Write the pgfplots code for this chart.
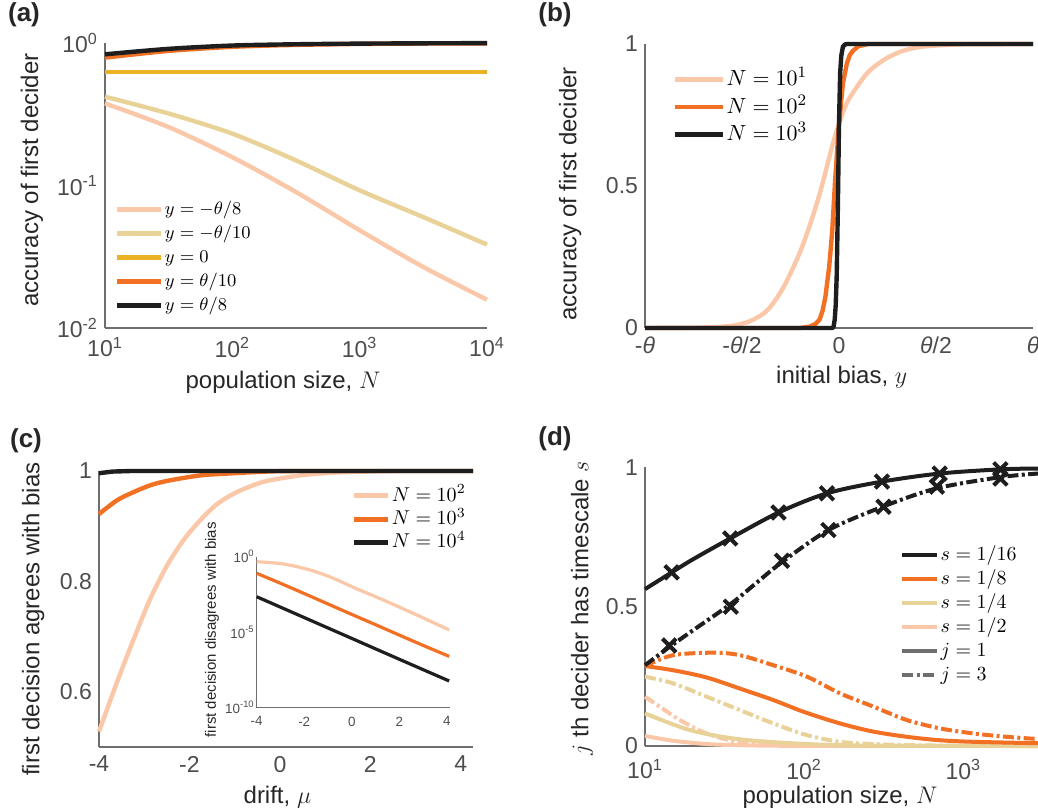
\documentclass[border=0pt]{standalone}
\usepackage{fontspec}
\setmainfont{Liberation Sans}
\usepackage{pgfplots}
\pgfplotsset{compat=1.18}
\definecolor{cpeach}{HTML}{FAC8A8}
\definecolor{ctan}{HTML}{E9D298}
\definecolor{cyel}{HTML}{ECB226}
\definecolor{corange}{HTML}{F27024}
\definecolor{cblack}{HTML}{1E1E1E}
\definecolor{axgray}{HTML}{6E6E6E}
\definecolor{ticgray}{HTML}{4D4D4D}
\definecolor{labgray}{HTML}{262626}

\pgfplotsset{
  panel/.style={
    scale only axis, anchor=south west, clip=false,
    axis lines*=left, axis line style={draw=axgray, line width=0.6pt},
    major tick length=0pt, minor tick length=0pt,
    tick label style={font=\fontsize{11.5}{13}\selectfont, text=ticgray},
    xticklabel style={yshift=-1pt},
    every axis y label/.style={rotate=90, anchor=center,
      font=\fontsize{12}{14}\selectfont, text=labgray},
    every axis x label/.style={anchor=center,
      font=\fontsize{12}{14}\selectfont, text=labgray},
    legend cell align=left,
    legend style={draw=none, fill=none, anchor=north west, inner sep=0pt,
      font=\fontsize{9.6}{11}\selectfont, row sep=0pt,
      nodes={inner sep=0.6pt, text height=8pt, text depth=2.8pt}},
  },
  dashdot/.style={dash pattern=on 5.5pt off 1.7pt on 1.5pt off 1.7pt},
}

\begin{document}
\begin{tikzpicture}
\path[use as bounding box] (0,0) rectangle (519pt,-406pt);

% panel labels
\node[font=\fontsize{13}{15}\selectfont\bfseries, text=labgray] at (12pt,-7.5pt) {(a)};
\node[font=\fontsize{13}{15}\selectfont\bfseries, text=labgray] at (277.5pt,-7.5pt) {(b)};
\node[font=\fontsize{13}{15}\selectfont\bfseries, text=labgray] at (13pt,-220.5pt) {(c)};
\node[font=\fontsize{13}{15}\selectfont\bfseries, text=labgray] at (277.5pt,-219.5pt) {(d)};

% (a)
\begin{axis}[panel, at={(52.5pt,-164pt)}, width=191pt, height=142.5pt,
  xmode=log, ymode=log, xmin=10, xmax=10000, ymin=0.01, ymax=1,
  xtick={10,100,1000,10000},
  xticklabels={10\textsuperscript{1},10\textsuperscript{2},10\textsuperscript{3},10\textsuperscript{4}},
  ytick={0.01,0.1,1},
  yticklabels={10\textsuperscript{-2},10\textsuperscript{-1},10\textsuperscript{0}},
  xlabel={population size, $N$}, ylabel={accuracy of first decider},
  xlabel style={at={(axis description cs:0.466,-0.19)}},
  ylabel style={at={(axis description cs:-0.191,0.519)}},
  legend image code/.code={\draw[#1] (0pt,0pt) -- (22pt,0pt);},
  legend style={at={(axis description cs:0.025,0.46)}, font=\fontsize{9.4}{11}\selectfont}]
\addlegendimage{cpeach, line width=2.4pt}\addlegendentry{$y=-\theta/8$}
\addlegendimage{ctan, line width=2.4pt}\addlegendentry{$y=-\theta/10$}
\addlegendimage{cyel, line width=2.4pt}\addlegendentry{$y=0$}
\addlegendimage{corange, line width=2.4pt}\addlegendentry{$y=\theta/10$}
\addlegendimage{cblack, line width=2.4pt}\addlegendentry{$y=\theta/8$}
\addplot[forget plot, cpeach, line width=2.2pt, smooth] coordinates {
 (10,0.377) (31.6,0.257) (100,0.158) (316,0.090) (1000,0.0485) (3162,0.0268) (10000,0.0158)};
\addplot[forget plot, ctan, line width=2.2pt, smooth] coordinates {
 (10,0.42) (31.6,0.32) (100,0.231) (316,0.150) (1000,0.0925) (3162,0.060) (10000,0.0385)};
\addplot[forget plot, cyel, line width=2.2pt] coordinates {(10,0.626) (10000,0.626)};
\addplot[forget plot, corange, line width=2.2pt, smooth] coordinates {
 (10,0.79) (31.6,0.88) (100,0.94) (316,0.97) (1000,0.985) (3162,0.992) (10000,0.995)};
\addplot[forget plot, cblack, line width=2.2pt, smooth] coordinates {
 (10,0.833) (31.6,0.91) (100,0.96) (316,0.98) (1000,0.99) (3162,0.995) (10000,0.998)};
\end{axis}

% (b)
\begin{axis}[panel, at={(322.5pt,-164pt)}, width=194pt, height=142pt,
  xmin=-1, xmax=1, ymin=0, ymax=1,
  xtick={-1,-0.5,0,0.5,1},
  xticklabels={-\textit{θ},-\textit{θ}/2,0,\textit{θ}/2,\textit{θ}},
  ytick={0,0.5,1}, yticklabels={0,0.5,1},
  xlabel={initial bias, $y$}, ylabel={accuracy of first decider},
  xlabel style={at={(axis description cs:0.507,-0.173)}},
  ylabel style={at={(axis description cs:-0.193,0.472)}},
  legend image code/.code={\draw[#1] (0pt,0pt) -- (24pt,0pt);},
  legend style={at={(axis description cs:0.07,0.925)}, font=\fontsize{11.3}{13}\selectfont,
    nodes={inner sep=0.6pt, text height=9.3pt, text depth=3.3pt}}]
\addlegendimage{cpeach, line width=2.4pt}\addlegendentry{$N=10^1$}
\addlegendimage{corange, line width=2.4pt}\addlegendentry{$N=10^2$}
\addlegendimage{cblack, line width=2.4pt}\addlegendentry{$N=10^3$}
\addplot[forget plot, cpeach, line width=2.2pt, smooth] coordinates {
 (-1,0) (-0.75,0.001) (-0.62,0.004) (-0.54,0.009) (-0.456,0.025) (-0.37,0.062)
 (-0.285,0.145) (-0.19,0.286) (-0.104,0.462) (-0.027,0.66) (0.025,0.767)
 (0.059,0.815) (0.145,0.897) (0.231,0.944) (0.317,0.973) (0.403,0.988)
 (0.489,0.994) (0.65,0.999) (1,1)};
\addplot[forget plot, corange, line width=2.2pt] coordinates {
 (-1,0) (-0.2,0) (-0.15,0.005) (-0.12,0.015) (-0.1,0.03) (-0.085,0.06)
 (-0.07,0.11) (-0.05,0.22) (-0.035,0.34) (-0.02,0.52) (0,0.72) (0.02,0.86)
 (0.04,0.93) (0.055,0.96) (0.07,0.975) (0.1,0.992) (0.15,1) (1,1)};
\addplot[forget plot, cblack, line width=2.2pt] coordinates {
 (-1,0) (-0.035,0) (-0.028,0.005) (-0.022,0.03) (-0.017,0.08) (-0.012,0.18)
 (-0.006,0.42) (0,0.72) (0.006,0.9) (0.012,0.96) (0.02,0.99) (0.03,0.998)
 (0.04,1) (1,1)};
\end{axis}

% (c)
\begin{axis}[panel, at={(49.5pt,-373.5pt)}, width=187pt, height=138pt,
  xmin=-4, xmax=4.27, ymin=0.5, ymax=1,
  xtick={-4,-2,0,2,4}, xticklabels={-4,-2,0,2,4},
  ytick={0.6,0.8,1}, yticklabels={0.6,0.8,1},
  xlabel={drift, $\mu$}, ylabel={first decision agrees with bias},
  xlabel style={at={(axis description cs:0.477,-0.181)}},
  ylabel style={at={(axis description cs:-0.176,0.463)}},
  legend image code/.code={\draw[#1] (0pt,0pt) -- (17pt,0pt);},
  legend style={at={(axis description cs:0.675,0.955)},
    nodes={inner sep=0.6pt, text height=8pt, text depth=2.8pt}, row sep=-0.3pt}]
\addlegendimage{cpeach, line width=2.4pt}\addlegendentry{$N=10^2$}
\addlegendimage{corange, line width=2.4pt}\addlegendentry{$N=10^3$}
\addlegendimage{cblack, line width=2.4pt}\addlegendentry{$N=10^4$}
\addplot[forget plot, cpeach, line width=2.2pt, smooth] coordinates {
 (-4,0.528) (-3.6,0.618) (-3.23,0.696) (-2.87,0.768) (-2.5,0.828) (-2.13,0.875)
 (-1.76,0.911) (-1.39,0.94) (-1.02,0.959) (-0.66,0.972) (-0.29,0.982)
 (0.45,0.992) (1.19,0.997) (1.92,0.999) (2.6,1) (4.27,1)};
\addplot[forget plot, corange, line width=2.2pt, smooth] coordinates {
 (-4,0.922) (-3.6,0.947) (-3.23,0.962) (-2.87,0.974) (-2.5,0.982) (-1.76,0.992)
 (-1.02,0.996) (-0.29,0.999) (0.5,1) (4.27,1)};
\addplot[forget plot, cblack, line width=2.2pt] coordinates {
 (-4,0.996) (-3.7,0.999) (-3.3,1) (4.27,1)};
\end{axis}

% (c) inset
\begin{axis}[panel, at={(128.35pt,-353.85pt)}, width=96.7pt, height=75.5pt,
  xmin=-4, xmax=4.14, ymode=log, ymin=1e-10, ymax=1,
  tick label style={font=\fontsize{6.7}{8}\selectfont, text=ticgray},
  xticklabel style={yshift=0pt},
  every axis y label/.style={rotate=90, anchor=center,
    font=\fontsize{7.5}{9}\selectfont, text=labgray},
  axis line style={draw=axgray, line width=0.5pt},
  yticklabel style={inner sep=0.8pt},
  xtick={-4,-2,0,2,4}, xticklabels={-4,-2,0,2,4},
  ytick={1e-10,1e-5,1},
  yticklabels={10\textsuperscript{-10},10\textsuperscript{-5},10\textsuperscript{0}},
  ylabel={first decision disagrees with bias},
  ylabel style={at={(axis description cs:-0.231,0.515)}}]
\addplot[cpeach, line width=1.6pt, smooth] coordinates {
 (-4,0.468) (-2.88,0.331) (-1.75,0.132) (-0.77,0.0372) (0.07,9.33e-3)
 (1.33,1.35e-3) (2.74,1.38e-4) (4.1,1.41e-5)};
\addplot[corange, line width=1.6pt, smooth] coordinates {
 (-4,7.94e-2) (-3,1.74e-2) (-2,3.63e-3) (-1,7.41e-4) (0,1.51e-4)
 (1,3.16e-5) (2,6.46e-6) (3,1.35e-6) (4.1,2.51e-7)};
\addplot[cblack, line width=1.6pt, smooth] coordinates {
 (-4,2.24e-3) (-2,9.33e-5) (0,3.89e-6) (2,1.62e-7) (4.1,5.89e-9)};
\end{axis}

% (d)
\begin{axis}[panel, at={(322.5pt,-373pt)}, width=196.5pt, height=139.3pt,
  xmode=log, xmin=10, xmax=2945, ymin=0, ymax=1,
  xtick={10,100,1000},
  xticklabels={10\textsuperscript{1},10\textsuperscript{2},10\textsuperscript{3}},
  xticklabel style={yshift=-2pt},
  ytick={0,0.5,1}, yticklabels={0,0.5,1},
  xlabel={population size, $N$}, ylabel={$j$ th decider has timescale $s$},
  xlabel style={at={(axis description cs:0.496,-0.183)}},
  ylabel style={at={(axis description cs:-0.160,0.495)}},
  legend image code/.code={\draw[#1] (0pt,0pt) -- (17.5pt,0pt);},
  legend style={at={(axis description cs:0.648,0.73)}, font=\fontsize{9.9}{11}\selectfont}]
\addlegendimage{cblack, line width=2.2pt}\addlegendentry{$s=1/16$}
\addlegendimage{corange, line width=2.2pt}\addlegendentry{$s=1/8$}
\addlegendimage{ctan, line width=2.2pt}\addlegendentry{$s=1/4$}
\addlegendimage{cpeach, line width=2.2pt}\addlegendentry{$s=1/2$}
\addlegendimage{axgray, line width=1.8pt}\addlegendentry{$j=1$}
\addlegendimage{axgray, line width=1.8pt, dashdot}\addlegendentry{$j=3$}
\addplot[forget plot, cpeach, line width=2pt, smooth] coordinates {
 (10,0.036) (15,0.019) (24.4,0.007) (39.5,0.003) (100,0.0005) (2945,0)};
\addplot[forget plot, cpeach, line width=2pt, smooth, dashdot] coordinates {
 (10,0.177) (12.4,0.141) (16.6,0.093) (24.4,0.045) (39.5,0.012) (64,0.003)
 (150,0) (2945,0)};
\addplot[forget plot, ctan, line width=2pt, smooth] coordinates {
 (10,0.117) (19.2,0.057) (39.5,0.024) (104,0.007) (300,0.001) (2945,0)};
\addplot[forget plot, ctan, line width=2pt, smooth, dashdot] coordinates {
 (10,0.249) (15,0.225) (24.4,0.177) (39.5,0.129) (64,0.081) (104,0.039)
 (168,0.015) (273,0.007) (600,0.002) (2945,0)};
\addplot[forget plot, corange, line width=2pt, smooth] coordinates {
 (10,0.287) (15,0.272) (24.4,0.246) (40,0.205) (64,0.165) (100,0.122)
 (168,0.081) (270,0.052) (442,0.033) (700,0.021) (1160,0.015) (2945,0.01)};
\addplot[forget plot, corange, line width=2pt, smooth, dashdot] coordinates {
 (10,0.287) (15,0.326) (27,0.335) (39.5,0.326) (64,0.29) (104,0.249)
 (168,0.189) (273,0.141) (442,0.093) (716,0.063) (1160,0.045) (1870,0.033)
 (2945,0.025)};
\addplot[forget plot, cblack, line width=2pt, smooth] coordinates {
 (10,0.563) (14.7,0.623) (20,0.67) (34.3,0.745) (69,0.838) (139,0.907)
 (308,0.949) (710,0.978) (1710,0.993) (2945,0.996)};
\addplot[forget plot, cblack, line width=2pt, smooth, dashdot] coordinates {
 (10,0.29) (14.2,0.355) (20,0.415) (34.6,0.51) (50,0.585) (72.5,0.66)
 (142,0.775) (315,0.86) (682,0.925) (1710,0.965) (2945,0.978)};
\addplot[forget plot, only marks, cblack, mark=x, mark size=4.8pt,
  mark options={line width=2pt}] coordinates {
 (14.7,0.623) (34.3,0.745) (69,0.838) (139,0.907) (308,0.949) (710,0.978) (1710,0.993)
 (14.2,0.361) (34.6,0.5) (72.5,0.665) (142,0.775) (315,0.859) (682,0.931) (1710,0.96)};
\end{axis}
\end{tikzpicture}
\end{document}
